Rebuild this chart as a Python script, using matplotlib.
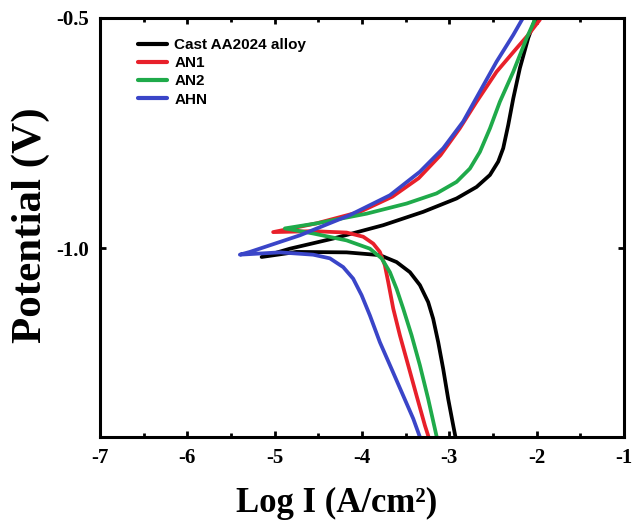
import matplotlib
matplotlib.use("Agg")
import matplotlib.pyplot as plt
from matplotlib.ticker import MultipleLocator

# ---- data (log I, potential): cathodic branch bottom -> Ecorr -> anodic branch top
cast_logi = [-2.924, -2.954, -3.012, -3.069, -3.126, -3.184, -3.241, -3.336, -3.450, -3.603,
             -3.794, -4.175, -4.748, -5.148,
             -4.824, -4.329, -3.756, -3.298, -2.916, -2.687, -2.534, -2.439, -2.382, -2.325,
             -2.267, -2.191, -2.096, -2.019]
cast_e = [-1.414, -1.385, -1.327, -1.262, -1.204, -1.153, -1.117, -1.080, -1.052, -1.030,
          -1.015, -1.009, -1.008, -1.019,
          -1.001, -0.979, -0.950, -0.921, -0.892, -0.867, -0.841, -0.812, -0.783, -0.733,
          -0.675, -0.609, -0.544, -0.504]

an1_logi = [-3.229, -3.278, -3.374, -3.470, -3.565, -3.641, -3.699, -3.737, -3.794, -3.870,
            -3.985, -4.175, -4.558, -5.016,
            -4.519, -4.023, -3.650, -3.350, -3.100, -2.880, -2.687, -2.458, -2.229, -2.096, -1.962]
an1_e = [-1.414, -1.385, -1.320, -1.254, -1.189, -1.131, -1.073, -1.037, -1.008, -0.990,
         -0.975, -0.966, -0.963, -0.965,
         -0.946, -0.921, -0.888, -0.848, -0.798, -0.740, -0.682, -0.617, -0.566, -0.537, -0.504]

an2_logi = [-3.138, -3.164, -3.241, -3.336, -3.431, -3.527, -3.603, -3.679, -3.774, -3.908,
            -4.175, -4.558, -4.882,
            -4.519, -3.946, -3.488, -3.145, -2.916, -2.763, -2.649, -2.534, -2.420, -2.267,
            -2.114, -2.019]
an2_e = [-1.414, -1.392, -1.327, -1.254, -1.189, -1.131, -1.088, -1.052, -1.022, -1.001,
         -0.983, -0.968, -0.957,
         -0.946, -0.925, -0.903, -0.881, -0.856, -0.827, -0.791, -0.740, -0.682, -0.617,
         -0.544, -0.504]

ahn_logi = [-3.328, -3.412, -3.527, -3.660, -3.794, -3.908, -4.003, -4.100, -4.214, -4.366,
            -4.558, -4.939, -5.397,
            -5.282, -4.710, -4.137, -3.679, -3.336, -3.069, -2.840, -2.649, -2.458, -2.267, -2.134]
ahn_e = [-1.414, -1.370, -1.320, -1.262, -1.204, -1.146, -1.102, -1.066, -1.041, -1.022,
         -1.014, -1.009, -1.014,
         -1.008, -0.972, -0.928, -0.885, -0.834, -0.783, -0.725, -0.660, -0.595, -0.537, -0.493]

labels = ["Cast AA2024 alloy", "AN1", "AN2", "AHN"]
colors = ["#000000", "#e8202a", "#1faa4a", "#3a45c8"]

xticks = [-7, -6, -5, -4, -3, -2, -1]
yticks = [-1.0, -0.5]

fig = plt.figure(figsize=(6.36, 5.26), dpi=100)
ax = fig.add_axes([0.157, 0.169, 0.824, 0.797])

series = [(cast_logi, cast_e), (an1_logi, an1_e), (an2_logi, an2_e), (ahn_logi, ahn_e)]
for (xs, ys), lab, c in zip(series, labels, colors):
    ax.plot(xs, ys, color=c, lw=2.7, label=lab, solid_capstyle="round", solid_joinstyle="round")

ax.set_xlim(-7, -1)
ax.set_ylim(-1.41, -0.5)
ax.set_xticks(xticks)
ax.set_xticklabels([f"{t:d}" for t in xticks])
ax.set_yticks(yticks)
ax.set_yticklabels([f"{t:.1f}" for t in yticks])
ax.xaxis.set_minor_locator(MultipleLocator(0.5))

for sp in ax.spines.values():
    sp.set_linewidth(2.2)

ax.tick_params(which="both", direction="in", top=True, right=True, width=2, length=4)
ax.tick_params(which="minor", length=3)
ax.tick_params(axis="both", labelsize=15, pad=8)
for lab in ax.get_xticklabels() + ax.get_yticklabels():
    lab.set_fontfamily("Liberation Serif")
    lab.set_fontweight("bold")

ax.set_xlabel("Log I (A/cm²)", fontfamily="Liberation Serif", fontweight="bold", fontsize=25)
ax.xaxis.set_label_coords(0.452, -0.118)
ax.set_ylabel("Potential (V)", fontfamily="Liberation Serif", fontweight="bold", fontsize=31)
ax.yaxis.set_label_coords(-0.095, 0.505)

leg = ax.legend(loc="upper left", bbox_to_anchor=(0.047, 0.985), frameon=False,
                prop={"family": "Liberation Sans", "weight": "bold", "size": 11},
                handlelength=1.9, handletextpad=0.45, labelspacing=0.28)
for h in leg.get_lines():
    h.set_linewidth(3)

fig.savefig("out.png", dpi=100)
